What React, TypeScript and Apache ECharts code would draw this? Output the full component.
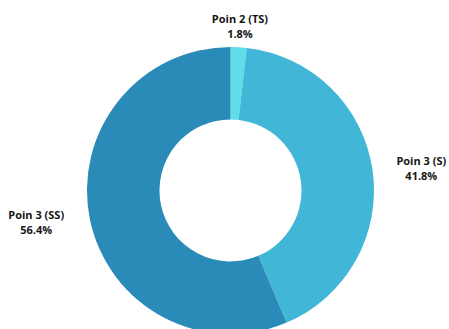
import React, { useEffect, useRef } from "react";
import * as echarts from "echarts";

const categories = ["Poin 2 (TS)", "Poin 3 (S)", "Poin 3 (SS)"];
const values = [1.8, 41.8, 56.4];
const colors = ["#5fdde9", "#41b6d6", "#2a8bb9"];
const lineLengths = [
  { length: 6, length2: 0 },
  { length: 12, length2: 7 },
  { length: 12, length2: 9 },
];

export default function App() {
  const ref = useRef<HTMLDivElement>(null);
  useEffect(() => {
    if (!ref.current) return;
    const chart = echarts.init(ref.current, null, { renderer: "svg" });
    chart.setOption({
      animation: false,
      backgroundColor: "#ffffff",
      series: [
        {
          type: "pie",
          center: [230.5, 190.5],
          radius: [71, 143.5],
          startAngle: 90,
          clockwise: true,
          avoidLabelOverlap: false,
          data: categories.map((c, i) => ({
            name: c,
            value: values[i],
            itemStyle: { color: colors[i] },
            labelLine: lineLengths[i],
          })),
          label: {
            show: true,
            position: "outside",
            formatter: (p: any) => `${p.name}\n${p.value}%`,
            fontFamily: "Open Sans",
            fontWeight: "bold",
            fontSize: 11,
            lineHeight: 15,
            color: "#151515",
          },
          labelLine: { show: false },
          labelLayout: (p: any) => {
            const r = p.labelRect;
            if (p.dataIndex === 0) {
              return { x: r.x - 4, align: "center", verticalAlign: "bottom" } as any;
            }
            return { x: r.x + r.width / 2, align: "center" } as any;
          },
          emphasis: { disabled: true },
        },
      ],
    });
    return () => chart.dispose();
  }, []);
  return (
    <div
      ref={ref}
      style={{ position: "fixed", left: 0, top: 0, width: 449, height: 329 }}
    />
  );
}
